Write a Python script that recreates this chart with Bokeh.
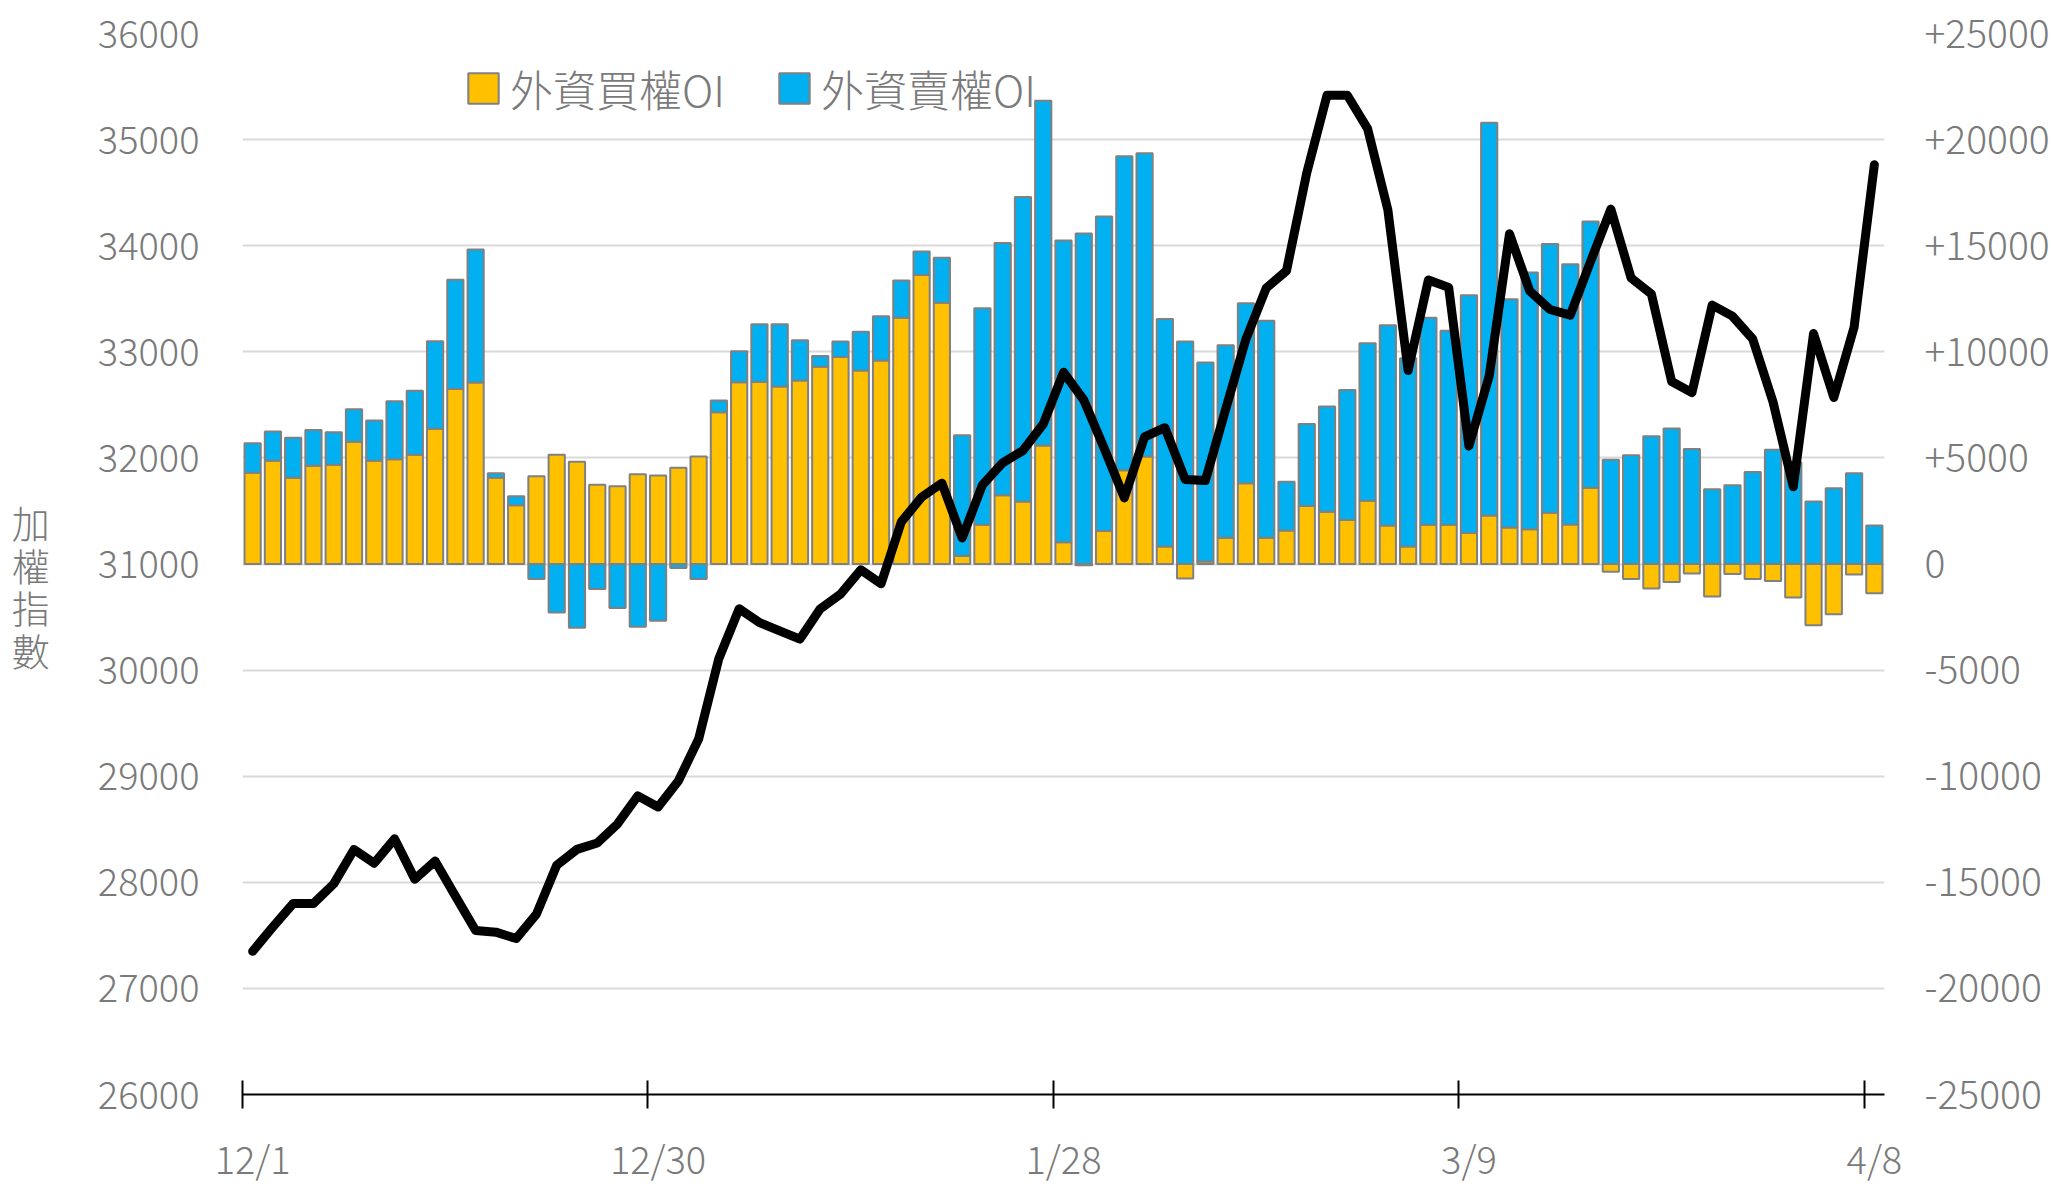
from bokeh.plotting import figure
from bokeh.models import (Range1d, LinearAxis, FixedTicker, Legend, LegendItem,
                          ColumnDataSource, Grid)
from bokeh.embed import file_html
from bokeh.resources import INLINE

# ---------------- data ----------------
call_oi = [4300, 4860, 4070, 4630, 4680, 5760, 4860, 4940, 5150, 6370,
           8250, 8550, 4070, 2770, 4130, 5150, 4820, 3730, 3660, 4230,
           4170, 4540, 5070, 7150, 8570, 8580, 8370, 8650, 9300, 9750,
           9120, 9590, 11600, 13620, 12310, 380, 1850, 3240, 2940, 5590,
           1030, -60, 1550, 4420, 5070, 820, -680, 120, 1240, 3810,
           1240, 1580, 2730, 2460, 2070, 2980, 1810, 820, 1850, 1850,
           1460, 2290, 1720, 1640, 2420, 1860, 3590, -370, -710, -1150,
           -850, -450, -1530, -470, -710, -800, -1580, -2890, -2370, -500,
           -1380]
put_oi = [1390, 1390, 1880, 1690, 1530, 1530, 1900, 2730, 3010, 4130,
          5140, 6270, 210, 420, -710, -2280, -3010, -1180, -2070, -2960,
          -2680, -190, -710, 560, 1460, 2720, 2930, 1900, 500, 730,
          1830, 2090, 1760, 1110, 2120, 5690, 10200, 11890, 14360, 16240,
          14220, 15570, 14830, 14800, 14290, 10720, 10480, 9380, 9070, 8480,
          10220, 2300, 3870, 4960, 6130, 7420, 9440, 8880, 9750, 9140,
          11200, 18500, 10760, 12100, 12660, 12270, 12550, 4910, 5120, 6020,
          6390, 5420, 3520, 3710, 4340, 5380, 4800, 2940, 3570, 4280,
          1810]
taiex = [27350, 27580, 27800, 27800, 27985, 28310, 28180, 28410, 28030, 28200,
         27870, 27545, 27530, 27470, 27700, 28160, 28310, 28370, 28550, 28815,
         28710, 28955, 29350, 30110, 30578, 30448, 30370, 30292, 30578, 30717,
         30945, 30814, 31397, 31630, 31762, 31245, 31745, 31954, 32069, 32319,
         32807, 32546, 32093, 31623, 32198, 32285, 31797, 31787, 32459, 33120,
         33600, 33764, 34687, 35418, 35418, 35104, 34339, 32824, 33677, 33607,
         32111, 32772, 34112, 33573, 33399, 33346, 33851, 34345, 33695, 33545,
         32720, 32615, 33440, 33336, 33120, 32528, 31728, 33172, 32570, 33231,
         34763]
x_tick_index = [0, 20, 40, 60, 80]
x_tick_labels = ["12/1", "12/30", "1/28", "3/9", "4/8"]
left_ticks = [26000, 27000, 28000, 29000, 30000, 31000, 32000, 33000, 34000, 35000, 36000]
right_ticks = [-25000, -20000, -15000, -10000, -5000, 0, 5000, 10000, 15000, 20000, 25000]
right_labels = ["-25000", "-20000", "-15000", "-10000", "-5000", "0",
                "+5000", "+10000", "+15000", "+20000", "+25000"]
series_names = ["外資買權OI", "外資賣權OI"]
y_title = "加權指數"

# ---------------- styling ----------------
FONT = "'Noto Sans CJK TC Light', 'Noto Sans CJK TC', sans-serif"
GREY = "#7a7a7a"
YELLOW = "#FFC000"
BLUE = "#00B0F0"
OUTLINE = "#808080"

# ---------------- stacking (Excel-style: positives up, negatives down) ----------------
n = len(call_oi)
xs = [i + 0.5 for i in range(n)]
cb, ct, pb, pt = [], [], [], []
for c, pv in zip(call_oi, put_oi):
    pos, neg = 0, 0
    if c >= 0:
        cb.append(0); ct.append(c); pos = c
    else:
        cb.append(c); ct.append(0); neg = c
    if pv >= 0:
        pb.append(pos); pt.append(pos + pv)
    else:
        pt.append(neg); pb.append(neg + pv)

src = ColumnDataSource(dict(x=xs, cb=cb, ct=ct, pb=pb, pt=pt, idx=taiex))

p = figure(width=2052, height=1188, output_backend="svg", toolbar_location=None,
           x_range=Range1d(0, n), y_range=Range1d(left_ticks[0], left_ticks[-1]),
           x_axis_type=None, y_axis_type=None,
           min_border_left=242, min_border_right=168, min_border_top=33,
           min_border_bottom=94)
p.outline_line_color = None
p.background_fill_color = "white"
p.extra_y_ranges = {"oi": Range1d(right_ticks[0], right_ticks[-1])}

left_ticker = FixedTicker(ticks=left_ticks)
p.add_layout(Grid(dimension=1, ticker=left_ticker, grid_line_color="#d9d9d9",
                  grid_line_width=2))

# left axis
ly = LinearAxis(ticker=left_ticker, axis_line_color=None, major_tick_line_color=None,
                minor_tick_line_color=None, major_tick_in=0, major_tick_out=0,
                major_label_standoff=43, major_label_text_font=FONT,
                major_label_text_font_size="38px", major_label_text_color=GREY,
                axis_label=" \n" + "\n".join(y_title), axis_label_orientation="horizontal",
                axis_label_text_font=FONT, axis_label_text_font_size="38px",
                axis_label_text_color=GREY, axis_label_text_font_style="normal",
                axis_label_text_line_height=0.78, axis_label_standoff=45)
p.add_layout(ly, "left")

# right axis
ry = LinearAxis(y_range_name="oi", ticker=FixedTicker(ticks=right_ticks),
                major_label_overrides=dict(zip(right_ticks, right_labels)),
                axis_line_color=None, major_tick_line_color=None,
                minor_tick_line_color=None, major_tick_in=0, major_tick_out=0,
                major_label_standoff=40, major_label_text_font=FONT,
                major_label_text_font_size="39px", major_label_text_color=GREY)
p.add_layout(ry, "right")

# bottom axis: line + boundary ticks
ax_a = LinearAxis(ticker=FixedTicker(ticks=x_tick_index), axis_line_color="black",
                  axis_line_width=2, major_tick_line_color="black", major_tick_line_width=2,
                  major_tick_in=14, major_tick_out=14, minor_tick_line_color=None,
                  major_label_text_font_size="0px", major_label_standoff=0,
                  major_label_overrides={i: "" for i in x_tick_index})
p.add_layout(ax_a, "below")
# bottom axis: labels centred on categories
lab_pos = [i + 0.5 for i in x_tick_index]
ax_b = LinearAxis(ticker=FixedTicker(ticks=lab_pos),
                  major_label_overrides=dict(zip(lab_pos, x_tick_labels)),
                  axis_line_color=None, major_tick_line_color=None,
                  minor_tick_line_color=None, major_tick_in=0, major_tick_out=0,
                  major_label_standoff=21, major_label_text_font=FONT,
                  major_label_text_font_size="38px", major_label_text_color=GREY)
p.add_layout(ax_b, "below")

r_call = p.vbar(x="x", bottom="cb", top="ct", width=0.8, source=src, y_range_name="oi",
                fill_color=YELLOW, line_color=OUTLINE, line_width=2)
r_put = p.vbar(x="x", bottom="pb", top="pt", width=0.8, source=src, y_range_name="oi",
               fill_color=BLUE, line_color=OUTLINE, line_width=2)
p.line(x="x", y="idx", source=src, line_color="black", line_width=9,
       line_join="round", line_cap="round")

legend = Legend(items=[LegendItem(label=series_names[0], renderers=[r_call]),
                       LegendItem(label=series_names[1], renderers=[r_put])],
                orientation="horizontal", location=(222, 975),
                border_line_color=None, background_fill_alpha=0,
                padding=0, margin=0, spacing=50, glyph_width=38, glyph_height=38,
                label_standoff=8, label_text_font=FONT, label_text_font_size="43px",
                label_text_color=GREY)
p.add_layout(legend)

open("out.html", "w").write(file_html(p, INLINE))
